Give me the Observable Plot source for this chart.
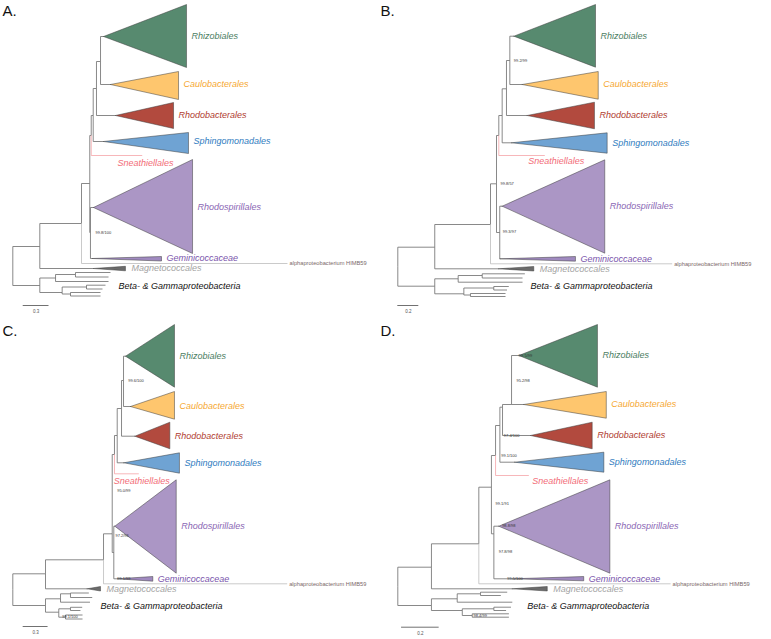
<!DOCTYPE html>
<html><head><meta charset="utf-8">
<script src="https://cdn.jsdelivr.net/npm/d3@7"></script>
<script src="https://cdn.jsdelivr.net/npm/@observablehq/plot@0.6"></script>
<style>
body{margin:0;background:#fff;}
#wrap{position:relative;width:771px;height:639px;overflow:hidden;background:#fff;}
.panel{position:absolute;}
</style></head><body><div id="wrap"></div>
<script>
// ---- shared tree topology ----
const nodeNames = ["root","ingroup","alpha","core","sneathGrp","RRS","RR","RZ","rhodoGrp",
 "Rhizobiales","Caulobacterales","Rhodobacterales","Sphingomonadales","Sneathiellales",
 "Rhodospirillales","Geminicoccaceae","HIMB59","Magnetococcales",
 "bg","bgA","bgA1","bgA1a","bgA1b","bgA2","bgB","bgB1","bgB1a","bgB1b","bgB2","bgB2a","bgB2b"];
const nodeParent = [null,"root","ingroup","alpha","core","sneathGrp","RRS","RR","core",
 "RZ","RZ","RR","RRS","sneathGrp",
 "rhodoGrp","rhodoGrp","alpha","ingroup",
 "root","bg","bgA","bgA1","bgA1","bgA","bg","bgB","bgB1","bgB1","bgB","bgB2","bgB2"];
const cladeNames = ["Rhizobiales","Caulobacterales","Rhodobacterales","Sphingomonadales","Rhodospirillales","Geminicoccaceae","Magnetococcales"];
const panelLetters = ["A.","B.","C.","D."];

// ---- panel A (branch lengths in substitutions/site) ----
const depthA = [0,0.314,0.799,0.895,0.912,0.935,0.973,1.020,0.903,
 1.055,1.136,1.194,1.055,1.505, 0.938,0.927,3.194,0.938,
 0.314,0.497,0.729,1.136,1.113,1.113,0.574,0.857,1.078,1.043,0.671,1.020,1.020];
const yA = [265.5,246,223,183,135,115,88,61,232,
 36,84,115,141,155, 207,258,263,268,
 285,277.5,274,272,276.5,281,292,286.5,284.7,288.5,293.5,292,295.5];
const tipA = [2.020,1.927,1.869,2.043,2.090,1.729,1.310];
const cladeTopA = [4,71,102,132,159,256,265.8];
const cladeBottomA = [67,99,128,153,253,260.5,270.3];
const bootA = [["99.8/100",0.962,232]];
const barA = [0.3,0.121,305];

// ---- panel B ----
const depthB = [0,0.352,0.883,0.940,0.962,0.994,1.035,1.067,0.971,
 1.105,1.185,1.232,1.083,1.400, 0.994,0.975,2.613,0.959,
 0.352,0.575,0.804,1.210,1.188,1.188,0.629,0.914,1.057,1.040,0.692,1.026,1.026];
const yB = [266,246.7,224,183.3,135,115,88.3,60,232,
 35.7,84,115,142.3,155, 205.7,258.3,263.3,268.3,
 285.7,278.3,275,273.3,277.5,281.7,293.3,287.5,286,289.5,294.5,293,296];
const tipB = [1.883,1.909,1.873,1.994,1.971,1.692,1.295];
const cladeTopB = [4,71,101.7,132.3,159.3,256,266];
const cladeBottomB = [66.7,98.7,128.3,152.7,252.7,260.7,270.5];
const bootB = [["99.2/99",1.105,60],["99.8/57",0.978,183.3],["99.3/97",1.0,231.7]];
const barB = [0.2,0.0,305];

// ---- panel C ----
const depthC = [0,0.394,1.093,1.198,1.225,1.258,1.310,1.334,1.217,
 1.358,1.418,1.470,1.337,1.518, 1.229,1.261,3.306,0.896,
 0.394,0.575,0.695,0.916,0.957,0.930,0.554,0.695,0.836,0.815,0.635,0.840,0.840];
const yC = [269,253.3,239.3,213.3,134,115,88,60,232,
 35.7,86,115.7,142.3,153.3, 205.7,258.3,263.3,268.3,
 285,278.3,273.3,272.5,277,281.7,291.7,288.3,286.8,290,296.7,294.5,298.5];
const tipC = [1.948,1.948,1.892,2.008,1.969,1.687,1.057];
const cladeTopC = [4,71,101.7,132.3,159.3,256,266];
const cladeBottomC = [66.7,98.7,128.3,152.7,252.7,260.7,270.5];
const bootC = [["99.6/100",1.390,60.7],["95.0/99",1.258,170.7],["97.2/96",1.237,215],["99.1/99",1.258,258.3],["99.1/100",0.595,296]];
const barC = [0.3,0.125,306];

// ---- panel D ----
const depthD = [0,0.179,0.431,0.498,0.520,0.543,0.557,0.605,0.511,
 0.644,0.670,0.706,0.621,0.697, 0.537,0.609,1.451,0.609,
 0.179,0.316,0.440,0.582,0.548,0.609,0.343,0.511,0.602,0.576,0.396,0.591,0.591];
const yD = [266,246.7,223.3,166.7,135,105,86.7,84,213.3,
 35,84,115,141.7,155, 205.7,258.3,263.3,268.3,
 285,278.3,273.3,271.7,275,281.7,290,288.3,286.7,290,295,293.3,296.7];
const tipD = [1.062,1.109,1.034,1.096,1.128,0.989,0.795];
const cladeTopD = [4,71,101.7,131.7,159.3,256,266];
const cladeBottomD = [66.7,97.7,128.3,151.7,252.7,260.3,270.5];
const bootD = [["99.5/99",0.644,35],["95.2/98",0.631,60.7],["97.4/100",0.564,115],["99.1/100",0.550,135],["99.1/91",0.520,183.3],["98.8/98",0.555,205],["97.8/98",0.537,231.7],["99.5/100",0.582,258.3],["98.4/99",0.403,295]];
const barD = [0.2,0.02,306.7];

// ---- styles ----
const FONT = "Liberation Sans, Arial, Helvetica, sans-serif";
const fillColor = {Rhizobiales:"#578a6f",Caulobacterales:"#fec66e",Rhodobacterales:"#b24a3e",Sphingomonadales:"#6fa3d3",Rhodospirillales:"#ab96c5",Geminicoccaceae:"#a08ac0",Magnetococcales:"#6b6b6b"};
const textColor = {Rhizobiales:"#4b7d62",Caulobacterales:"#f6a832",Rhodobacterales:"#b03b2f",Sphingomonadales:"#2f7cc0",Sneathiellales:"#f26d78",Rhodospirillales:"#8a66b4",Geminicoccaceae:"#7a55ac",Magnetococcales:"#a3a3a3"};

const panels = [
 {depth:depthA,y:yA,tip:tipA,ct:cladeTopA,cb:cladeBottomA,boot:bootA,bar:barA,left:0,top:0,w:375,h:320,rootPx:12.3,ppu:86,sneath:[1.217,163],bgLab:[1.229,286]},
 {depth:depthB,y:yB,tip:tipB,ct:cladeTopB,cb:cladeBottomB,boot:bootB,bar:barB,left:375,top:0,w:396,h:320,rootPx:22.3,ppu:105,sneath:[1.242,161],bgLab:[1.264,285.7]},
 {depth:depthC,y:yC,tip:tipC,ct:cladeTopC,cb:cladeBottomC,boot:bootC,bar:barC,left:0,top:320,w:375,h:319,rootPx:12.3,ppu:83,sneath:[1.217,161],bgLab:[1.057,285.7]},
 {depth:depthD,y:yD,tip:tipD,ct:cladeTopD,cb:cladeBottomD,boot:bootD,bar:barD,left:375,top:320,w:396,h:319,rootPx:22.3,ppu:188,sneath:[0.715,161],bgLab:[0.688,285.7]}
];

const idx = new Map(nodeNames.map((n,i)=>[n,i]));
const wrap = document.getElementById("wrap");

panels.forEach((p,pi)=>{
  const links = nodeNames.map((n,i)=>{
    const par = nodeParent[i];
    if (!par) return null;
    const j = idx.get(par);
    return {name:n, x1:p.depth[j], y1:p.y[j], x2:p.depth[i], y2:p.y[i]};
  }).filter(d=>d);
  const greyLinks = links.filter(d=>d.name!=="HIMB59" && d.name!=="Sneathiellales");
  const himbLinks = links.filter(d=>d.name==="HIMB59");
  const sneathLinks = links.filter(d=>d.name==="Sneathiellales");

  const triMarks = cladeNames.map((c,i)=>{
    const k = idx.get(c);
    const pts = [{x:p.depth[k],y:p.y[k]},{x:p.tip[i],y:p.ct[i]},{x:p.tip[i],y:p.cb[i]},{x:p.depth[k],y:p.y[k]}];
    return Plot.line(pts,{x:"x",y:"y",fill:fillColor[c],stroke:"#3a3a3a",strokeWidth:0.5,strokeLinejoin:"miter"});
  });

  const cladeLabels = cladeNames.map((c,i)=>({text:c,x:p.tip[i],y:p.y[idx.get(c)],color:textColor[c],dx:c==="Magnetococcales"?6:5}));
  const labA = cladeLabels.filter(d=>d.dx===5);
  const labM = cladeLabels.filter(d=>d.dx===6);
  const boots = p.boot.map(([t,x,y])=>({t,x,y}));
  const bar = {len:p.bar[0],start:p.bar[1],y:p.bar[2]};
  const hk = idx.get("HIMB59");

  const chart = Plot.plot({
    width:p.w, height:p.h, margin:0,
    x:{axis:null, domain:[0,1], range:[p.rootPx,p.rootPx+p.ppu]},
    y:{axis:null, domain:[0,p.h], range:[0,p.h]},
    color:{type:"identity"},
    style:{background:"transparent",overflow:"visible",fontFamily:FONT},
    marks:[
      Plot.link(greyLinks,{x1:"x1",y1:"y1",x2:"x2",y2:"y2",curve:"step-before",stroke:"#6b6b6b",strokeWidth:0.8}),
      Plot.link(himbLinks,{x1:"x1",y1:"y1",x2:"x2",y2:"y2",curve:"step-before",stroke:"#bdbdbd",strokeWidth:0.8}),
      Plot.link(sneathLinks,{x1:"x1",y1:"y1",x2:"x2",y2:"y2",curve:"step-before",stroke:"#f5a5a8",strokeWidth:0.8}),
      ...triMarks,
      Plot.text(labA,{x:"x",y:"y",text:"text",fill:"color",dx:5,textAnchor:"start",fontSize:9,fontStyle:"italic",fontFamily:FONT}),
      Plot.text(labM,{x:"x",y:"y",text:"text",fill:"color",dx:6,textAnchor:"start",fontSize:9,fontStyle:"italic",fontFamily:FONT}),
      Plot.text([{x:p.sneath[0],y:p.sneath[1]}],{x:"x",y:"y",text:()=>"Sneathiellales",fill:textColor.Sneathiellales,textAnchor:"start",fontSize:9,fontStyle:"italic",fontFamily:FONT}),
      Plot.text([{x:p.bgLab[0],y:p.bgLab[1]}],{x:"x",y:"y",text:()=>"Beta- & Gammaproteobacteria",fill:"#111",textAnchor:"start",fontSize:9,fontStyle:"italic",fontFamily:FONT}),
      Plot.text([{x:p.depth[hk],y:p.y[hk]}],{x:"x",y:"y",text:()=>"alphaproteobacterium HIMB59",fill:"#7a6868",dx:2,textAnchor:"start",fontSize:5.7,fontFamily:FONT}),
      Plot.text(boots,{x:"x",y:"y",text:"t",fill:"#333",textAnchor:"start",fontSize:4,fontFamily:FONT}),
      Plot.ruleY([bar],{x1:d=>d.start,x2:d=>d.start+d.len,y:"y",stroke:"#333",strokeWidth:0.7}),
      Plot.text([bar],{x:d=>d.start+d.len/2,y:"y",dy:6,text:d=>String(d.len),fill:"#555",fontSize:4.5,fontFamily:FONT}),
      Plot.text([panelLetters[pi]],{frameAnchor:"top-left",dx:pi%2===0?2:5,dy:5,lineAnchor:"top",textAnchor:"start",fontSize:15,fill:"#111",fontFamily:FONT})
    ]
  });
  const div = document.createElement("div");
  div.className = "panel";
  div.style.left = p.left+"px"; div.style.top = p.top+"px";
  div.style.width = p.w+"px"; div.style.height = p.h+"px";
  div.appendChild(chart);
  wrap.appendChild(div);
});
</script></body></html>
